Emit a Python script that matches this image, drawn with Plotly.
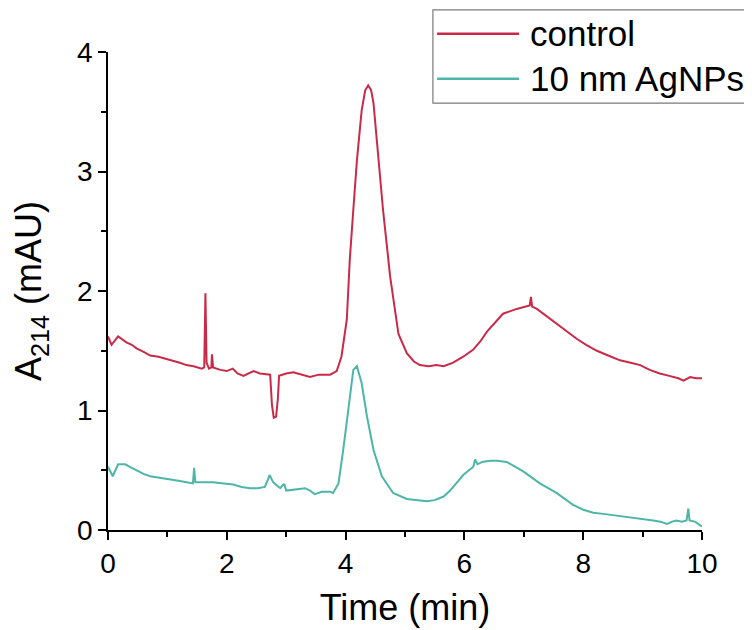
import plotly.graph_objects as go

# Time (min) / absorbance readings
control_time = [0, 0.06, 0.17, 0.31, 0.40, 0.48, 0.60, 0.71, 0.85, 0.99, 1.10, 1.21, 1.32, 1.44,
                1.58, 1.62, 1.64, 1.66, 1.70, 1.74, 1.75, 1.77, 1.89, 2.00, 2.10, 2.18, 2.28, 2.37,
                2.45, 2.56, 2.67, 2.73, 2.76, 2.79, 2.83, 2.86, 2.88, 3.00, 3.12, 3.25, 3.40, 3.55,
                3.74, 3.85, 3.93, 4.02, 4.07, 4.13, 4.19, 4.27, 4.33, 4.38, 4.43, 4.47, 4.55, 4.63,
                4.75, 4.89, 5.03, 5.15, 5.25, 5.40, 5.53, 5.65, 5.81, 5.98, 6.15, 6.27, 6.38, 6.50,
                6.65, 6.88, 7.05, 7.10, 7.12, 7.14, 7.22, 7.38, 7.55, 7.72, 7.89, 8.05, 8.23, 8.42,
                8.62, 8.80, 8.96, 9.12, 9.29, 9.45, 9.60, 9.69, 9.80, 9.90, 10.0]
control_abs = [1.62, 1.55, 1.62, 1.57, 1.55, 1.52, 1.49, 1.46, 1.45, 1.43, 1.42, 1.40, 1.38, 1.37,
               1.35, 1.36, 1.98, 1.40, 1.35, 1.36, 1.47, 1.36, 1.34, 1.33, 1.35, 1.31, 1.29, 1.31,
               1.33, 1.31, 1.30, 1.30, 1.05, 0.94, 0.95, 1.10, 1.29, 1.31, 1.32, 1.30, 1.28, 1.30,
               1.30, 1.33, 1.45, 1.76, 2.26, 2.68, 3.09, 3.51, 3.68, 3.72, 3.68, 3.57, 3.15, 2.68,
               2.12, 1.64, 1.48, 1.41, 1.38, 1.37, 1.38, 1.37, 1.40, 1.45, 1.51, 1.58, 1.66, 1.73,
               1.81, 1.85, 1.87, 1.88, 1.95, 1.87, 1.85, 1.79, 1.73, 1.66, 1.60, 1.55, 1.50, 1.46,
               1.42, 1.40, 1.38, 1.34, 1.31, 1.29, 1.27, 1.25, 1.28, 1.27, 1.27]

agnp_time = [0, 0.05, 0.08, 0.17, 0.29, 0.40, 0.48, 0.60, 0.71, 0.85, 0.99, 1.10, 1.21, 1.32, 1.43,
             1.45, 1.47, 1.60, 1.77, 1.95, 2.11, 2.25, 2.39, 2.52, 2.64, 2.69, 2.72, 2.75, 2.78,
             2.85, 2.90, 2.95, 2.97, 3.00, 3.15, 3.32, 3.40, 3.48, 3.60, 3.74, 3.79, 3.88, 3.96,
             4.05, 4.13, 4.19, 4.27, 4.36, 4.47, 4.61, 4.80, 5.03, 5.20, 5.37, 5.50, 5.65, 5.76,
             5.81, 5.98, 6.15, 6.18, 6.22, 6.30, 6.43, 6.55, 6.71, 6.85, 6.99, 7.13, 7.27, 7.41,
             7.55, 7.69, 7.83, 8.00, 8.17, 8.34, 8.51, 8.68, 8.84, 9.01, 9.18, 9.30, 9.41, 9.50,
             9.57, 9.66, 9.74, 9.77, 9.79, 9.88, 10.0]
agnp_abs = [0.53, 0.47, 0.45, 0.55, 0.55, 0.52, 0.50, 0.47, 0.45, 0.44, 0.43, 0.42, 0.41, 0.40, 0.39,
            0.52, 0.40, 0.40, 0.40, 0.39, 0.38, 0.36, 0.35, 0.35, 0.36, 0.42, 0.46, 0.43, 0.40,
            0.37, 0.35, 0.38, 0.38, 0.33, 0.34, 0.35, 0.33, 0.30, 0.32, 0.32, 0.31, 0.39, 0.67,
            1.03, 1.34, 1.37, 1.23, 0.95, 0.67, 0.45, 0.31, 0.26, 0.25, 0.24, 0.25, 0.28, 0.33,
            0.36, 0.46, 0.53, 0.59, 0.55, 0.57, 0.58, 0.58, 0.57, 0.53, 0.49, 0.44, 0.39, 0.35,
            0.31, 0.26, 0.21, 0.17, 0.145, 0.135, 0.125, 0.11, 0.10, 0.09, 0.08, 0.07, 0.05, 0.07,
            0.08, 0.07, 0.08, 0.18, 0.08, 0.07, 0.03]

x_ticks = [0, 2, 4, 6, 8, 10]
y_ticks = [0, 1, 2, 3, 4]
series_names = ['control', '10 nm AgNPs']
series_colors = ['#C92A48', '#4DB6A8']

FONT = 'Liberation Sans, Arial, sans-serif'

fig = go.Figure()
fig.add_trace(go.Scatter(x=control_time, y=control_abs, mode='lines', name=series_names[0],
                         line=dict(color=series_colors[0], width=2)))
fig.add_trace(go.Scatter(x=agnp_time, y=agnp_abs, mode='lines', name=series_names[1],
                         line=dict(color=series_colors[1], width=2)))

axis_common = dict(
    showline=True, linecolor='black', linewidth=1.5,
    ticks='outside', ticklen=8, tickwidth=1.5, tickcolor='black',
    showgrid=False, zeroline=False,
    tickfont=dict(family=FONT, size=28, color='black'),
)
fig.update_xaxes(range=[0, 10], tickvals=x_ticks,
                 minor=dict(ticks='outside', ticklen=5, tickwidth=1.5, tickcolor='black', dtick=1),
                 title=dict(text='Time (min)', font=dict(family=FONT, size=36, color='black'), standoff=16),
                 **axis_common)
fig.update_yaxes(range=[0, 4], tickvals=y_ticks,
                 minor=dict(ticks='outside', ticklen=5, tickwidth=1.5, tickcolor='black', dtick=0.5),
                 title=dict(text='A<sub>214</sub> (mAU)', font=dict(family=FONT, size=36, color='black'),
                            standoff=24),
                 **axis_common)

# Hand-built legend box so the sample lines are long like the original
legend_rows = [1.038, 0.944]
shapes = [dict(type='rect', xref='paper', yref='paper', x0=0.547, x1=1.10, y0=0.893, y1=1.088,
               line=dict(color='#7a7a7a', width=1.2), fillcolor='white', layer='above')]
annotations = []
for name, color, yy in zip(series_names, series_colors, legend_rows):
    shapes.append(dict(type='line', xref='paper', yref='paper', x0=0.554, x1=0.692, y0=yy, y1=yy,
                       line=dict(color=color, width=2.5), layer='above'))
    annotations.append(dict(text=name, xref='paper', yref='paper', x=0.707, y=yy,
                            xanchor='left', yanchor='middle', showarrow=False,
                            font=dict(family=FONT, size=35, color='black')))

# the page body adds an 8 px offset, so the figure is 8 px smaller than the window
fig.update_layout(
    width=744, height=622,
    margin=dict(l=100, r=50, t=44, b=100, autoexpand=False),
    plot_bgcolor='white', paper_bgcolor='white',
    showlegend=False,
    shapes=shapes,
    annotations=annotations,
)

fig.write_html("out.html")
